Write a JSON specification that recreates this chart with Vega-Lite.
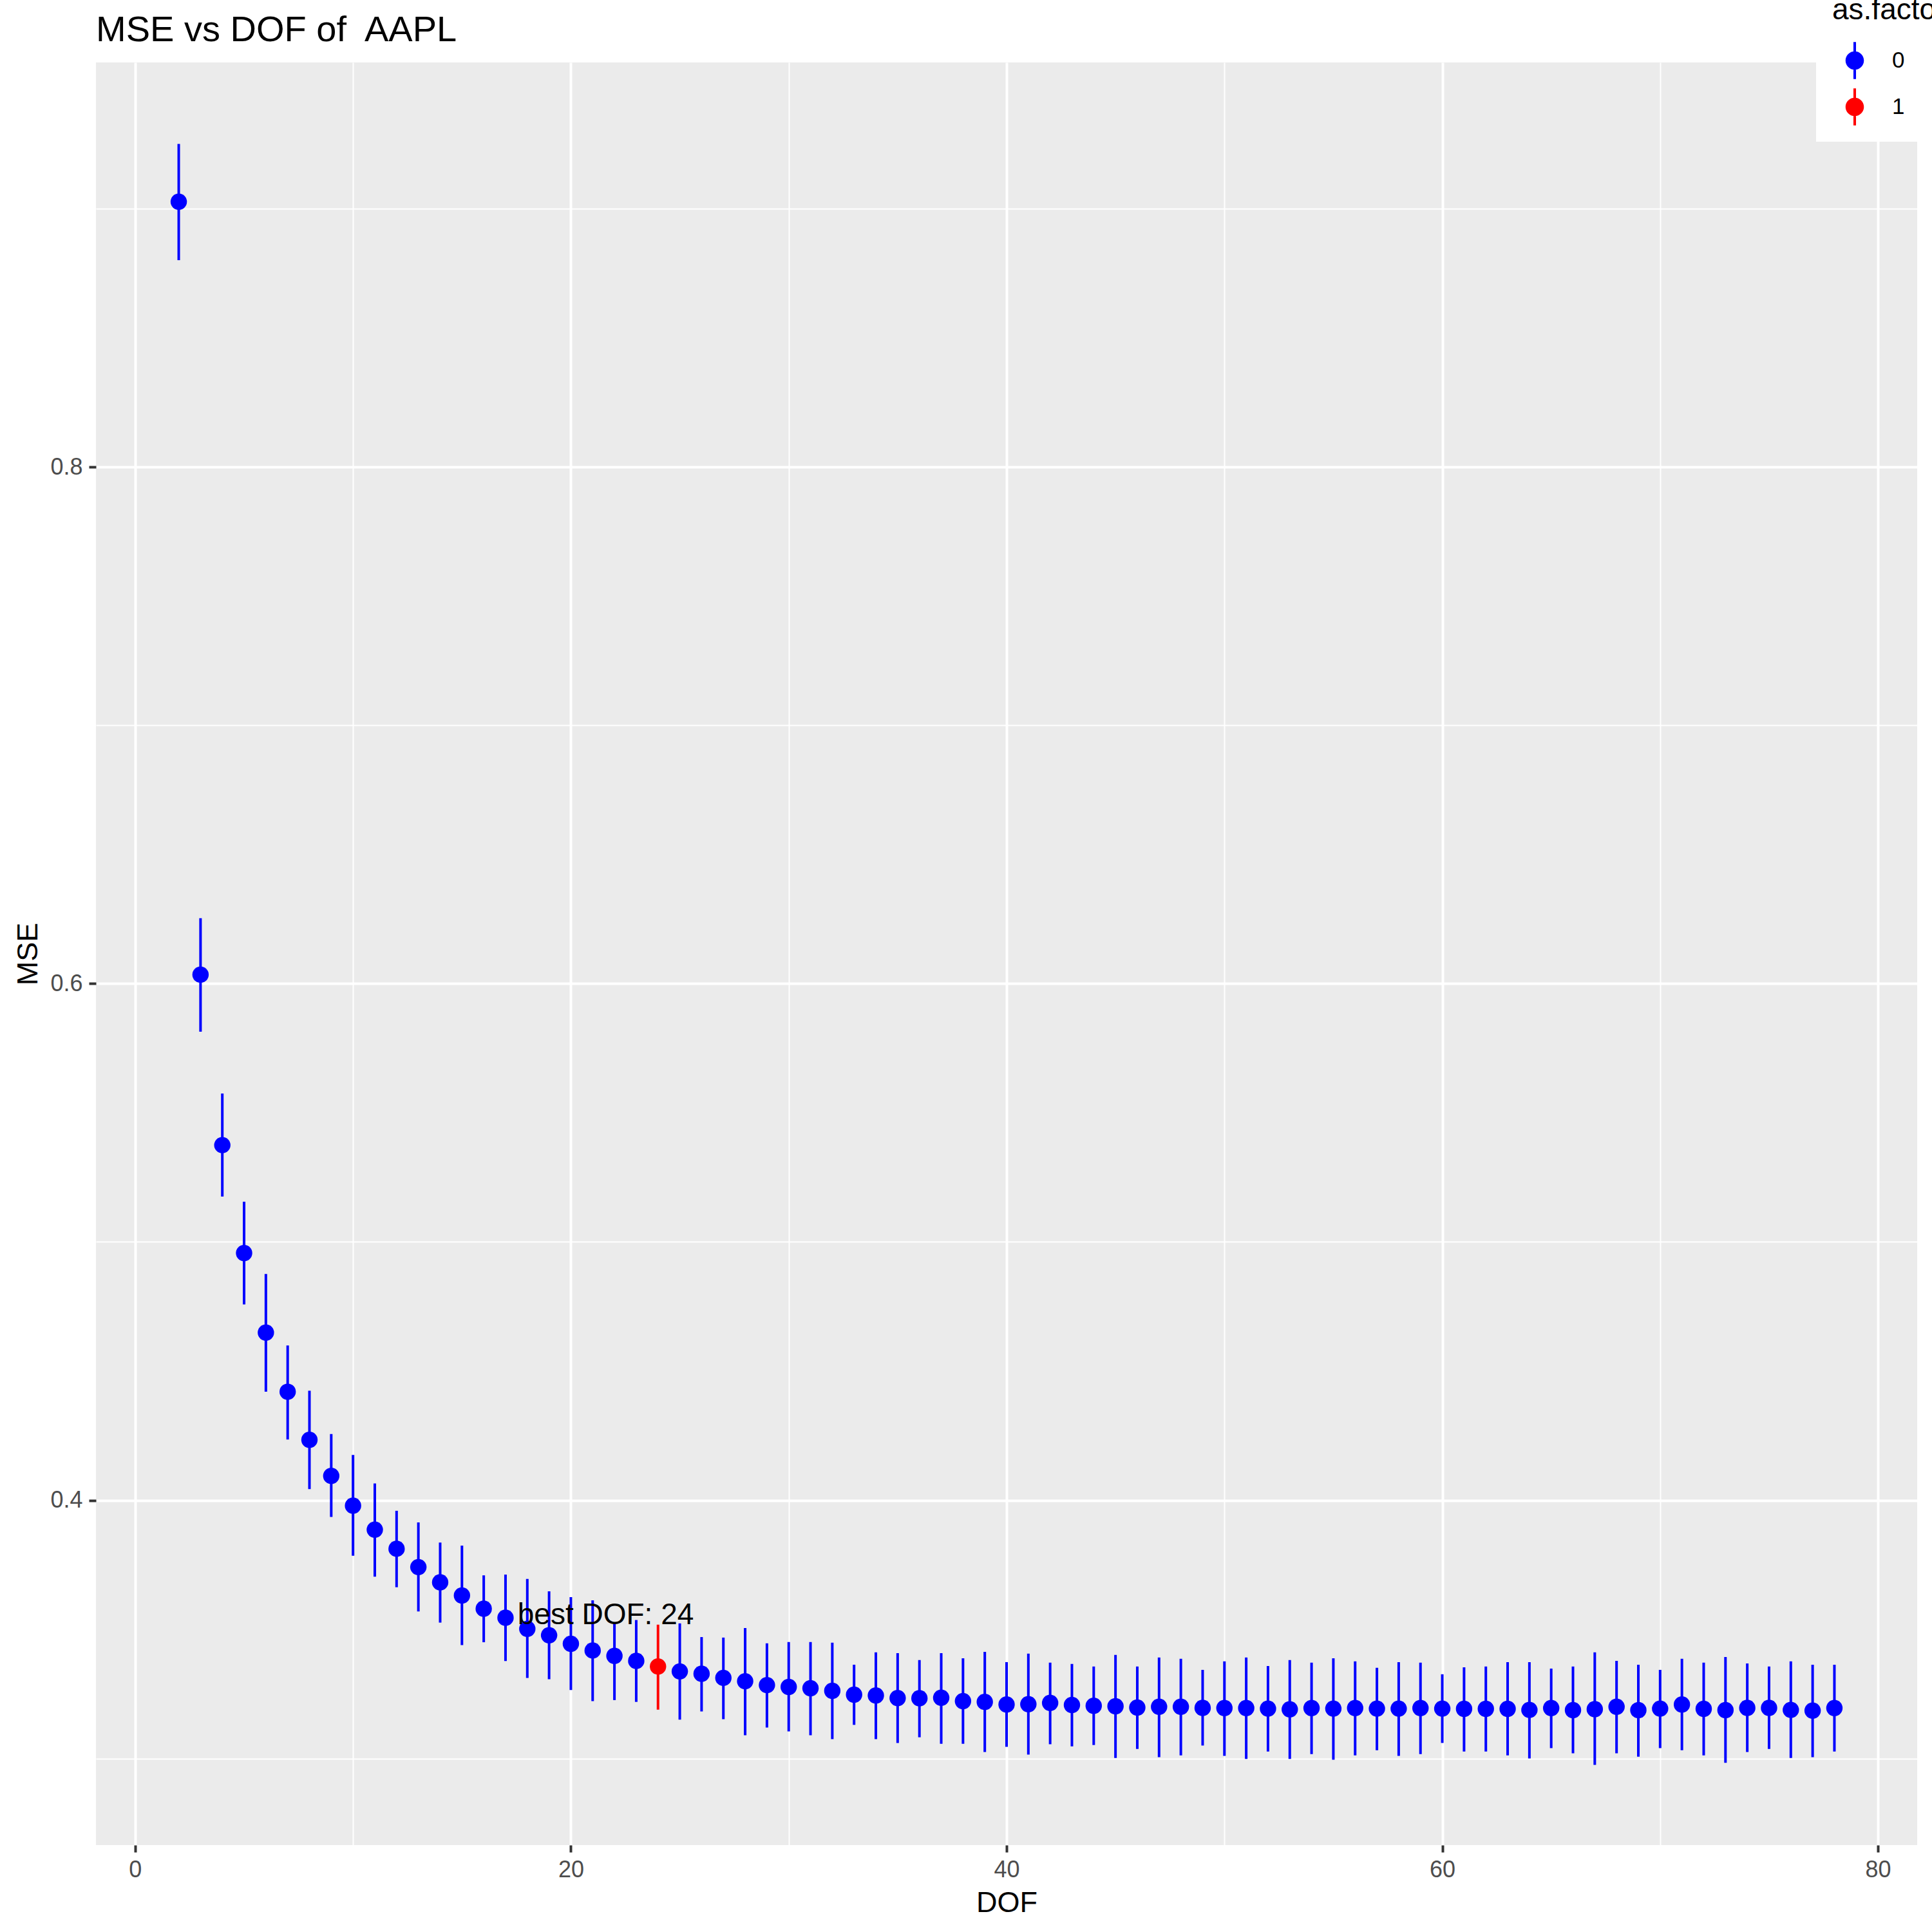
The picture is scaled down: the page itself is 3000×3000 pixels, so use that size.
{
  "$schema": "https://vega.github.io/schema/vega-lite/v6.json",
  "autosize": {"type": "none"},
  "padding": {"left": 149, "top": 97, "right": 23, "bottom": 135},
  "width": 2828,
  "height": 2768,
  "background": "white",
  "title": {"text": "MSE vs DOF of\u00a0 AAPL", "anchor": "start", "frame": "group", "fontSize": 56, "font": "Liberation Sans", "fontWeight": "normal", "color": "black", "baseline": "alphabetic", "offset": -151},
  "config": {
    "view": {"fill": "#EBEBEB", "stroke": null},
    "font": "Liberation Sans",
    "axis": {"domain": false, "labelFont": "Liberation Sans", "labelFontSize": 36, "labelColor": "#4D4D4D", "tickColor": "#333333", "tickWidth": 4, "tickSize": 11, "labelPadding": 10, "gridColor": "white", "gridOpacity": 1, "titleFont": "Liberation Sans", "titleFontSize": 45, "titleFontWeight": "normal", "titleColor": "black", "titlePadding": 11},
    "legend": {"orient": "none", "legendX": 2671, "legendY": -128, "padding": 25, "fillColor": "white",
               "titleFontSize": 46, "titleFont": "Liberation Sans", "titleFontWeight": "normal", "titleColor": "black", "titleLimit": 3000, "titlePadding": 25,
               "labelFontSize": 35, "labelFont": "Liberation Sans", "labelColor": "black", "labelOffset": 29, "symbolOffset": 6, "rowPadding": 14,
               "symbolSize": 3329, "symbolStrokeWidth": 0, "symbolOpacity": 1,
               "symbolType": "M0.495,0C0.495,0.2734,0.2734,0.495,0,0.495C-0.2734,0.495,-0.495,0.2734,-0.495,0C-0.495,-0.2734,-0.2734,-0.495,0,-0.495C0.2734,-0.495,0.495,-0.2734,0.495,0ZM-0.07,-1L0.07,-1L0.07,1L-0.07,1Z"}
  },
  "data": {"values": [
    {"DOF": 2, "MSE": 0.9028, "lo": 0.8802, "hi": 0.9252, "best": "0"},
    {"DOF": 3, "MSE": 0.6035, "lo": 0.5814, "hi": 0.6254, "best": "0"},
    {"DOF": 4, "MSE": 0.5375, "lo": 0.5176, "hi": 0.5575, "best": "0"},
    {"DOF": 5, "MSE": 0.4957, "lo": 0.4758, "hi": 0.5156, "best": "0"},
    {"DOF": 6, "MSE": 0.4649, "lo": 0.4420, "hi": 0.4876, "best": "0"},
    {"DOF": 7, "MSE": 0.4420, "lo": 0.4235, "hi": 0.4599, "best": "0"},
    {"DOF": 8, "MSE": 0.4234, "lo": 0.4043, "hi": 0.4424, "best": "0"},
    {"DOF": 9, "MSE": 0.4094, "lo": 0.3935, "hi": 0.4256, "best": "0"},
    {"DOF": 10, "MSE": 0.3979, "lo": 0.3785, "hi": 0.4175, "best": "0"},
    {"DOF": 11, "MSE": 0.3886, "lo": 0.3704, "hi": 0.4065, "best": "0"},
    {"DOF": 12, "MSE": 0.3812, "lo": 0.3663, "hi": 0.3959, "best": "0"},
    {"DOF": 13, "MSE": 0.3741, "lo": 0.3569, "hi": 0.3914, "best": "0"},
    {"DOF": 14, "MSE": 0.3682, "lo": 0.3526, "hi": 0.3836, "best": "0"},
    {"DOF": 15, "MSE": 0.3631, "lo": 0.3439, "hi": 0.3824, "best": "0"},
    {"DOF": 16, "MSE": 0.3580, "lo": 0.3450, "hi": 0.3709, "best": "0"},
    {"DOF": 17, "MSE": 0.3545, "lo": 0.3377, "hi": 0.3712, "best": "0"},
    {"DOF": 18, "MSE": 0.3502, "lo": 0.3312, "hi": 0.3695, "best": "0"},
    {"DOF": 19, "MSE": 0.3477, "lo": 0.3307, "hi": 0.3647, "best": "0"},
    {"DOF": 20, "MSE": 0.3444, "lo": 0.3265, "hi": 0.3625, "best": "0"},
    {"DOF": 21, "MSE": 0.3418, "lo": 0.3222, "hi": 0.3612, "best": "0"},
    {"DOF": 22, "MSE": 0.3397, "lo": 0.3226, "hi": 0.3526, "best": "0"},
    {"DOF": 23, "MSE": 0.3378, "lo": 0.3219, "hi": 0.3536, "best": "0"},
    {"DOF": 24, "MSE": 0.3356, "lo": 0.3189, "hi": 0.3518, "best": "1"},
    {"DOF": 25, "MSE": 0.3337, "lo": 0.3150, "hi": 0.3523, "best": "0"},
    {"DOF": 26, "MSE": 0.3328, "lo": 0.3182, "hi": 0.3470, "best": "0"},
    {"DOF": 27, "MSE": 0.3312, "lo": 0.3152, "hi": 0.3468, "best": "0"},
    {"DOF": 28, "MSE": 0.3299, "lo": 0.3090, "hi": 0.3505, "best": "0"},
    {"DOF": 29, "MSE": 0.3284, "lo": 0.3120, "hi": 0.3446, "best": "0"},
    {"DOF": 30, "MSE": 0.3277, "lo": 0.3105, "hi": 0.3451, "best": "0"},
    {"DOF": 31, "MSE": 0.3272, "lo": 0.3090, "hi": 0.3451, "best": "0"},
    {"DOF": 32, "MSE": 0.3262, "lo": 0.3075, "hi": 0.3448, "best": "0"},
    {"DOF": 33, "MSE": 0.3247, "lo": 0.3130, "hi": 0.3363, "best": "0"},
    {"DOF": 34, "MSE": 0.3244, "lo": 0.3075, "hi": 0.3411, "best": "0"},
    {"DOF": 35, "MSE": 0.3234, "lo": 0.3060, "hi": 0.3408, "best": "0"},
    {"DOF": 36, "MSE": 0.3233, "lo": 0.3082, "hi": 0.3381, "best": "0"},
    {"DOF": 37, "MSE": 0.3235, "lo": 0.3057, "hi": 0.3408, "best": "0"},
    {"DOF": 38, "MSE": 0.3222, "lo": 0.3057, "hi": 0.3388, "best": "0"},
    {"DOF": 39, "MSE": 0.3219, "lo": 0.3025, "hi": 0.3413, "best": "0"},
    {"DOF": 40, "MSE": 0.3209, "lo": 0.3045, "hi": 0.3373, "best": "0"},
    {"DOF": 41, "MSE": 0.3210, "lo": 0.3015, "hi": 0.3406, "best": "0"},
    {"DOF": 42, "MSE": 0.3215, "lo": 0.3055, "hi": 0.3371, "best": "0"},
    {"DOF": 43, "MSE": 0.3207, "lo": 0.3047, "hi": 0.3366, "best": "0"},
    {"DOF": 44, "MSE": 0.3204, "lo": 0.3052, "hi": 0.3356, "best": "0"},
    {"DOF": 45, "MSE": 0.3202, "lo": 0.3002, "hi": 0.3401, "best": "0"},
    {"DOF": 46, "MSE": 0.3197, "lo": 0.3037, "hi": 0.3356, "best": "0"},
    {"DOF": 47, "MSE": 0.3200, "lo": 0.3005, "hi": 0.3391, "best": "0"},
    {"DOF": 48, "MSE": 0.3200, "lo": 0.3012, "hi": 0.3386, "best": "0"},
    {"DOF": 49, "MSE": 0.3196, "lo": 0.3050, "hi": 0.3343, "best": "0"},
    {"DOF": 50, "MSE": 0.3195, "lo": 0.3010, "hi": 0.3376, "best": "0"},
    {"DOF": 51, "MSE": 0.3195, "lo": 0.2998, "hi": 0.3391, "best": "0"},
    {"DOF": 52, "MSE": 0.3193, "lo": 0.3027, "hi": 0.3358, "best": "0"},
    {"DOF": 53, "MSE": 0.3190, "lo": 0.2998, "hi": 0.3381, "best": "0"},
    {"DOF": 54, "MSE": 0.3195, "lo": 0.3017, "hi": 0.3371, "best": "0"},
    {"DOF": 55, "MSE": 0.3193, "lo": 0.2995, "hi": 0.3388, "best": "0"},
    {"DOF": 56, "MSE": 0.3195, "lo": 0.3012, "hi": 0.3376, "best": "0"},
    {"DOF": 57, "MSE": 0.3193, "lo": 0.3032, "hi": 0.3351, "best": "0"},
    {"DOF": 58, "MSE": 0.3193, "lo": 0.3010, "hi": 0.3373, "best": "0"},
    {"DOF": 59, "MSE": 0.3195, "lo": 0.3017, "hi": 0.3371, "best": "0"},
    {"DOF": 60, "MSE": 0.3193, "lo": 0.3060, "hi": 0.3326, "best": "0"},
    {"DOF": 61, "MSE": 0.3192, "lo": 0.3027, "hi": 0.3353, "best": "0"},
    {"DOF": 62, "MSE": 0.3192, "lo": 0.3027, "hi": 0.3356, "best": "0"},
    {"DOF": 63, "MSE": 0.3192, "lo": 0.3012, "hi": 0.3373, "best": "0"},
    {"DOF": 64, "MSE": 0.3188, "lo": 0.3000, "hi": 0.3373, "best": "0"},
    {"DOF": 65, "MSE": 0.3195, "lo": 0.3040, "hi": 0.3348, "best": "0"},
    {"DOF": 66, "MSE": 0.3187, "lo": 0.3020, "hi": 0.3356, "best": "0"},
    {"DOF": 67, "MSE": 0.3191, "lo": 0.2975, "hi": 0.3411, "best": "0"},
    {"DOF": 68, "MSE": 0.3200, "lo": 0.3020, "hi": 0.3378, "best": "0"},
    {"DOF": 69, "MSE": 0.3187, "lo": 0.3007, "hi": 0.3363, "best": "0"},
    {"DOF": 70, "MSE": 0.3193, "lo": 0.3040, "hi": 0.3343, "best": "0"},
    {"DOF": 71, "MSE": 0.3209, "lo": 0.3032, "hi": 0.3386, "best": "0"},
    {"DOF": 72, "MSE": 0.3192, "lo": 0.3012, "hi": 0.3371, "best": "0"},
    {"DOF": 73, "MSE": 0.3187, "lo": 0.2983, "hi": 0.3393, "best": "0"},
    {"DOF": 74, "MSE": 0.3196, "lo": 0.3025, "hi": 0.3368, "best": "0"},
    {"DOF": 75, "MSE": 0.3196, "lo": 0.3037, "hi": 0.3356, "best": "0"},
    {"DOF": 76, "MSE": 0.3188, "lo": 0.3002, "hi": 0.3376, "best": "0"},
    {"DOF": 77, "MSE": 0.3185, "lo": 0.3005, "hi": 0.3363, "best": "0"},
    {"DOF": 78, "MSE": 0.3195, "lo": 0.3027, "hi": 0.3363, "best": "0"}
  ]},
  "layer": [
    {
      "mark": {"type": "rule", "strokeWidth": 4},
      "encoding": {
        "x": {"field": "DOF", "type": "quantitative", "scale": {"domain": [-1.8, 81.8], "nice": false, "zero": false},
              "axis": {"values": [0, 20, 40, 60, 80], "grid": true, "gridWidth": 4, "title": "DOF", "format": "d"}},
        "y": {"field": "lo", "type": "quantitative", "scale": {"domain": [0.26646, 0.95673], "nice": false, "zero": false},
              "axis": {"values": [0.4, 0.6, 0.8], "grid": true, "gridWidth": 4, "title": "MSE", "format": ".1f"}},
        "y2": {"field": "hi"},
        "color": {"field": "best", "type": "nominal", "scale": {"domain": ["0", "1"], "range": ["#0000FF", "#FF0000"]}, "title": "as.factor(best)"}
      }
    },
    {
      "mark": {"type": "point", "filled": true, "size": 645, "opacity": 1},
      "encoding": {
        "x": {"field": "DOF", "type": "quantitative",
              "axis": {"orient": "top", "values": [10, 30, 50, 70], "grid": true, "gridWidth": 2, "labels": false, "ticks": false, "domain": false, "title": null}},
        "y": {"field": "MSE", "type": "quantitative",
              "axis": {"orient": "right", "values": [0.3, 0.5, 0.7, 0.9], "grid": true, "gridWidth": 2, "labels": false, "ticks": false, "domain": false, "title": null}},
        "color": {"field": "best", "type": "nominal", "title": "as.factor(best)"}
      }
    },
    {
      "data": {"values": [{"DOF": 21.6, "MSE": 0.3556, "label": "best DOF: 24"}]},
      "mark": {"type": "text", "fontSize": 46, "font": "Liberation Sans", "color": "black", "align": "center", "baseline": "middle"},
      "encoding": {
        "x": {"field": "DOF", "type": "quantitative", "axis": null},
        "y": {"field": "MSE", "type": "quantitative", "axis": null},
        "text": {"field": "label"}
      }
    }
  ],
  "resolve": {"axis": {"x": "independent", "y": "independent"}}
}
